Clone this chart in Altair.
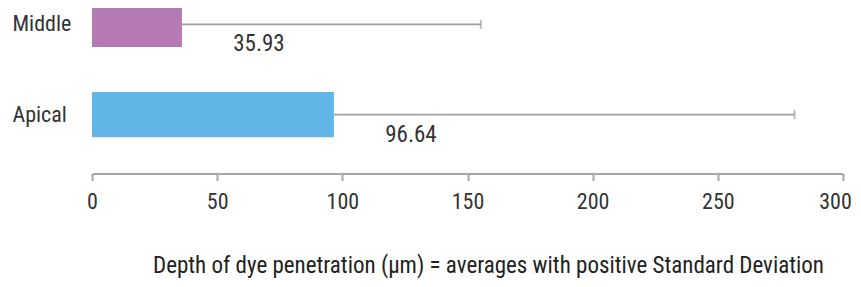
import altair as alt
import pandas as pd

categories = ["Middle", "Apical"]
means = [35.93, 96.64]
sds = [119.4, 184.0]
labels = ["35.93", "96.64"]
colors = ["#B57AB5", "#62B6E7"]
x_ticks = [0, 50, 100, 150, 200, 250, 300]

df = pd.DataFrame({"cat": categories, "mean": means, "sd": sds, "label": labels})
df["hi"] = df["mean"] + df["sd"]

FONT = "Roboto Condensed, Liberation Sans, sans-serif"

y_enc = alt.Y(
    "cat:N",
    sort=categories,
    scale=alt.Scale(paddingInner=0.5, paddingOuter=0.4),
    axis=alt.Axis(
        title=None, domain=False, ticks=False, tickSize=0, labelAlign="left",
        labelPadding=80, labelFontSize=22, labelFont=FONT, labelColor="#333333",
        labelBaseline="middle",
    ),
)
x_scale = alt.Scale(domain=[0, 300], nice=False)
x_axis = alt.Axis(
    values=x_ticks, grid=False, domainColor="#a6a6a6", domainWidth=2,
    tickColor="#a6a6a6", tickWidth=2, tickSize=7, labelPadding=11,
    labelFlush=False,
    labelOffset={"condition": {"test": "datum.value == 300", "value": -8}, "value": 0},
    labelFontSize=22, labelFont=FONT, labelColor="#333333",
    title="Depth of dye penetration (\u03bcm) = averages with positive Standard Deviation",
    titleFont=FONT, titleFontSize=23, titleFontWeight="normal", titleColor="#222222",
    titleX=396, titleY=98.5, titleAlign="center", titleBaseline="alphabetic",
)

bars = alt.Chart(df).mark_bar().encode(
    x=alt.X("mean:Q", scale=x_scale, axis=x_axis),
    y=y_enc,
    color=alt.Color("cat:N", scale=alt.Scale(domain=categories, range=colors), legend=None),
)
rules = alt.Chart(df).mark_rule(color="#a0a0a0", strokeWidth=1.7).encode(
    x="mean:Q", x2="hi:Q", y=alt.Y("cat:N", sort=categories)
)
caps = alt.Chart(df).mark_tick(color="#a0a0a0", thickness=2, size=9, orient="vertical").encode(
    x="hi:Q", y=alt.Y("cat:N", sort=categories)
)
texts = alt.Chart(df).mark_text(
    dx=77, dy=20, align="center", baseline="middle", fontSize=23, font=FONT, color="#333333"
).encode(x="mean:Q", y=alt.Y("cat:N", sort=categories), text="label:N")

chart = alt.layer(bars, rules, caps, texts).properties(
    width=751, height=208,
    autosize=alt.AutoSizeParams(type="none"),
    padding={"left": 84, "top": -42.5, "right": 10, "bottom": 105.5},
    background="white",
).configure_view(stroke=None)

chart.save("out.html", embed_options={"renderer": "svg", "actions": False})
